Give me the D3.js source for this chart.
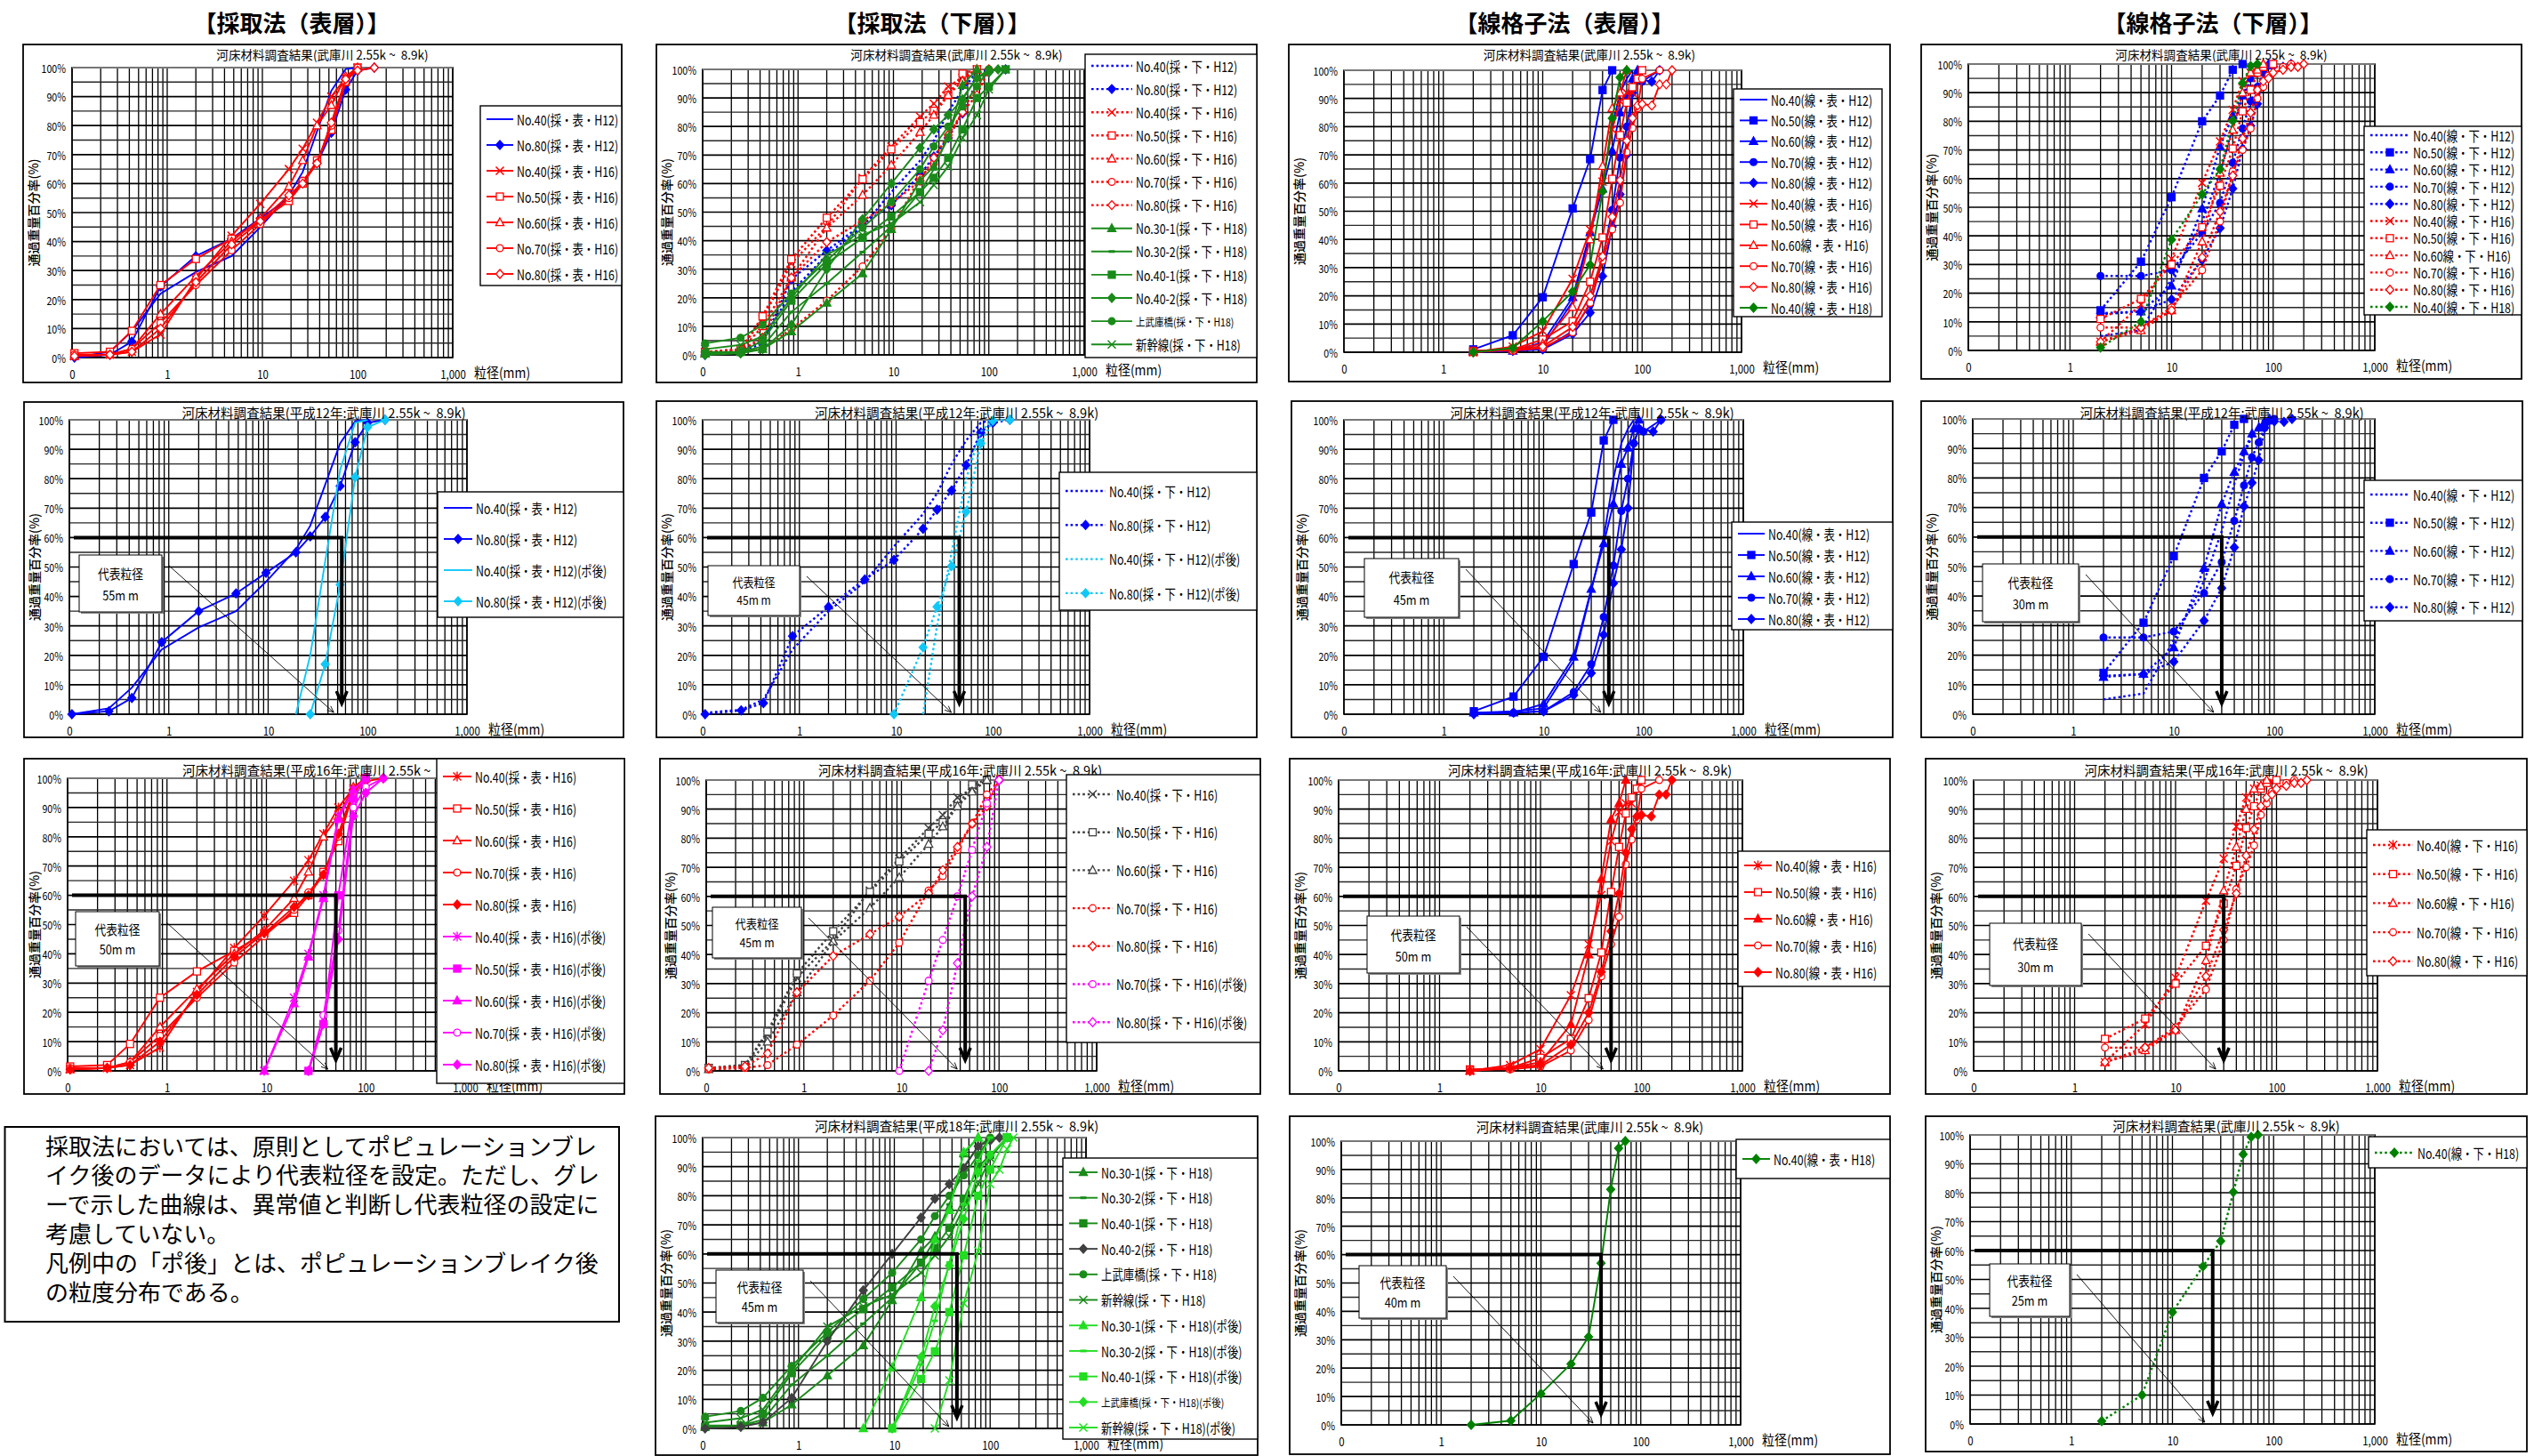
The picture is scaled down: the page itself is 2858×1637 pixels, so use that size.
<!DOCTYPE html>
<html><head><meta charset="utf-8">
<script src="https://cdn.jsdelivr.net/npm/d3@7"></script>
<style>
html,body{margin:0;padding:0;background:#fff;}
svg{display:block;}
text{white-space:pre;}
</style></head><body>
<svg id="chart" width="2858" height="1637"></svg>
<script>
// ---- sieve sizes (mm) ----
const _ = null;
const SIEVE_SAIJU = [0.106, 0.25, 0.425, 0.85, 2, 4.75, 9.5, 19, 26.5, 37.5, 53, 75, 100, 125, 150, 175];
const SIEVE_SENKOSHI = [2, 5, 10, 20, 30, 40, 50, 60, 70, 80, 90, 100, 125, 150, 175, 200];

const X_TICKS = [0.1, 1, 10, 100, 1000];
const X_TICK_LABELS = ['0', '1', '10', '100', '1,000'];
const Y_TICKS = [0, 10, 20, 30, 40, 50, 60, 70, 80, 90, 100];

// ---- 採取法 表層 (passing %) ----
const SO_H12_40 = [0, 2, 9, 22, 29.5, 35, 45, 56, 64, 78, 92, 99.5, 100];
const SO_H12_80 = [0, 1, 5.5, 24.5, 35, 41, 48, 55, 60.4, 67, 77.5, 92.4, 99, _, 100];
const SO_H12_40P = [_, _, _, _, _, _, _, 0, 20, 52, 83, 99, 100];
const SO_H12_80P = [_, _, _, _, _, _, _, _, 0, 17, 44, 80.5, 97.5, _, 100];
const SO_H16_40 = [0.5, 1, 2, 8, 27, 42, 53, 65, 72, 81, 90, 96.5, 100];
const SO_H16_50 = [1.5, 2, 9.2, 25, 34, 41, 47, 54, 60, 68, 78.5, 95, 100];
const SO_H16_60 = [0.5, 1, 3, 15, 28, 40, 48, 59, 68, 80, 87, 97, 100];
const SO_H16_70 = [1, 1, 3, 12, 25, 37, 46, 55, 61, 67, 80, 95, 100];
const SO_H16_80 = [0.5, 1, 2, 10, 26, 39, 47, 56, 60, 67, 81, 96, 99, _, 100];
const SO_H16_40P = [_, _, _, _, _, _, 0, 25, 40, 60, 87, 96, 100];
const SO_H16_50P = [_, _, _, _, _, _, _, _, 0, 16, 60, 93, 100];
const SO_H16_60P = [_, _, _, _, _, _, 0, 23, 39, 59, 86, 96, 100];
const SO_H16_70P = [_, _, _, _, _, _, _, _, 0, 19, 48, 90, 97, _, 100];
const SO_H16_80P = [_, _, _, _, _, _, _, _, 0, 16, 45, 87, 95, _, 100];

// ---- 採取法 下層 ----
const SB_H12_40 = [0.5, 1.5, 5, 22, 35, 45, 57, 68, 75, 85, 93, 99, 100];
const SB_H12_80 = [0, 1.3, 3.8, 26.5, 36.5, 45.8, 52.4, 63, 69.5, 76, 84.6, 95.7, 99, _, 100];
const SB_H12_40P = [_, _, _, _, _, _, _, 0, 30, 55, 80, 96, 100];
const SB_H12_80P = [_, _, _, _, _, _, 0, 22.7, 36.5, 50.3, 68.8, 92, 99.7, _, 100];
const SB_H16_40 = [1, 2, 12.5, 32, 45, 62, 73, 83.5, 88, 94, 97, 100];
const SB_H16_50 = [1, 2, 13.5, 33.5, 48, 61.5, 72, 81.5, 85.5, 91, 98.5, 100];
const SB_H16_60 = [0.5, 1.5, 10, 27, 44.5, 56, 66.5, 78, 84, 91, 96, 100];
const SB_H16_70 = [0.5, 1, 2, 9, 19, 31, 44, 62, 67, 76, 85, 95, 100];
const SB_H16_80 = [1, 1.5, 6, 27, 39.5, 47, 53, 61, 69, 77, 85, 91, 100];
const SB_H16_70P = [_, _, _, _, _, _, 0, 31, 45, 60, 76, 92, 100];
const SB_H16_80P = [_, _, _, _, _, _, _, 0, 14, 37, 60, 77, 100];
const SB_H18_301 = [0.5, 1, 2, 8.2, 18.2, 28.5, 44, 61, 66, 76, 94.5, 100];
const SB_H18_302 = [1, 1, 3, 15, 25, 36, 45, 57, 65, 77, 90, 97, 100];
const SB_H18_401 = [0.5, 1, 5, 19, 32, 41, 48.5, 57, 62, 69, 79, 90, 94, _, 100];
const SB_H18_402 = [0, 0.5, 2, 10.5, 30, 47.5, 60, 72.5, 79, 84, 89.5, 97, 99, 100];
const SB_H18_KAMI = [4, 6, 10.5, 21.5, 33, 44.5, 53.5, 65, 73, 80, 87, 94, 100];
const SB_H18_SHIN = [2, 3.5, 6.5, 20, 35, 42, 46, 53.5, 59.5, 66, 76, 84, 93, _, 100];
const SB_H18_301P = [_, _, _, _, _, 0, 21, 45, 65, 75, 95, 100];
const SB_H18_302P = [_, _, _, _, _, _, 0, 22, 37, 57, 77, 92, 100];
const SB_H18_401P = [_, _, _, _, _, _, 0, 17, 26.5, 40, 59.5, 80, 89, _, 100];
const SB_H18_KAMIP = [_, _, _, _, _, _, 0, 24.5, 42, 56, 72, 88, 94, _, 100];
const SB_H18_SHINP = [_, _, _, _, _, _, _, _, 0, 16.5, 43, 61, 84, 89, 96, 100];

// ---- 線格子法 表層 ----
const LO_H12_40 = [0.5, 1, 2, 18, 42, 60, 80, 92, 97, 100];
const LO_H12_50 = [1, 6, 19.5, 51, 68.5, 93, 100];
const LO_H12_60 = [0.5, 0.5, 3.5, 19.5, 42.5, 58, 71.5, 85, 90.5, 97, 100];
const LO_H12_70 = [0.5, 0.5, 1, 7.5, 17, 33, 50.5, 69, 80, 92, 97, 96, _, 100];
const LO_H12_80 = [0, 0.5, 1, 6.5, 14, 27, 44.5, 56, 70, 92, 97, _, 96, 100];
const LO_H16_40 = [0, 2, 7.5, 26, 43.5, 60.5, 79, 89, 92, 92, 97, 100];
const LO_H16_50 = [0.5, 1, 4.5, 11, 25, 40.7, 61.5, 77, 88.5, 94, 97, 100];
const LO_H16_60 = [0, 1, 3, 16, 40, 66, 86.5, 92, 100];
const LO_H16_70 = [0.5, 0.5, 1.5, 7, 17.5, 32.5, 43.5, 53, 71, 79.5, 86.5, 97, _, 100];
const LO_H16_80 = [0, 1, 2, 9, 20, 34, 48, 61, 75, 83, 87.5, 88, 87.5, 95, 95, 100];
const LO_H18_40 = [0, 1.5, 11, 21.5, 31, 57, 83, 97.5, 100];

// ---- 線格子法 下層 ----
const LB_H12_40 = [5, 7, 25, 45, 62, 78, 88, 94, 98, 100];
const LB_H12_50 = [14, 31, 53.5, 80, 89, 98, 100];
const LB_H12_60 = [12.6, 13.6, 22.6, 49.5, 71.2, 82, 89, 95, 97, 99, 100];
const LB_H12_70 = [26, 26, 28, 41, 51.5, 65.5, 77.5, 87, 92, 97, 99.5, 100];
const LB_H12_80 = [13, 13.6, 17.8, 31.7, 42.7, 56.5, 70.4, 78.4, 86.1, 97, _, 99.2, 99, 100];
const LB_H16_40 = [3, 16, 32, 58.5, 73, 84, 94, 97, 98, _, _, 100];
const LB_H16_50 = [11, 18, 30, 43, 57.5, 70.5, 83.5, 91, 97, 99, _, 100];
const LB_H16_60 = [3, 7, 14, 38, 62, 77, 90, 97, 98, 100];
const LB_H16_70 = [8, 8, 15, 28, 45, 62.5, 70, 77.5, 88, 92, 96, _, 99, 100];
const LB_H16_80 = [3, 8, 14, 32.5, 48.5, 61, 74, 83, 91, 94, 95, 97, 98, 99, 99, 100];
const LB_H18_40 = [1, 10, 38.7, 54.5, 63.3, 80.2, 93.3, 99.3, 100];

// ---- representative grain sizes (mm) ----
const REP_SO_H12 = 55, REP_SB_H12 = 45, REP_LO_H12 = 45, REP_LB_H12 = 30;
const REP_SO_H16 = 50, REP_SB_H16 = 45, REP_LO_H16 = 50, REP_LB_H16 = 30;
const REP_SB_H18 = 45, REP_LO_H18 = 40, REP_LB_H18 = 25;

const COL_HEADERS = ['【採取法（表層）】', '【採取法（下層）】', '【線格子法（表層）】', '【線格子法（下層）】'];
const NOTE_LINES = [
  '採取法においては、原則としてポピュレーションブレ',
  'イク後のデータにより代表粒径を設定。ただし、グレ',
  'ーで示した曲線は、異常値と判断し代表粒径の設定に',
  '考慮していない。',
  '凡例中の「ポ後」とは、ポピュレーションブレイク後',
  'の粒度分布である。'
];
const TITLE_ALL = '河床材料調査結果(武庫川 2.55k ~  8.9k)';
const TITLE_H12 = '河床材料調査結果(平成12年:武庫川 2.55k ~  8.9k)';
const TITLE_H16 = '河床材料調査結果(平成16年:武庫川 2.55k ~  8.9k)';
const TITLE_H18 = '河床材料調査結果(平成18年:武庫川 2.55k ~  8.9k)';

// ---- colours ----
const BLUE = '#0000ff', CYAN = '#10c8f8', RED = '#ff0000', MAG = '#ff00ff';
const GREEN = '#008000', GREEN2 = '#1a8a1a', LIME = '#22dd22', DGRAY = '#404040';

const JP = "'Noto Sans CJK JP','Noto Sans',sans-serif";

function S(label, data, color, marker, opts) {
  return Object.assign({ label, data, color, marker }, opts || {});
}

const svg = d3.select('#chart');
svg.append('rect').attr('width', 2858).attr('height', 1637).attr('fill', '#fff');

function txt(g, x, y, s, o) {
  o = o || {};
  let tr = `translate(${x},${y})`;
  if (o.rot) tr += ` rotate(${o.rot})`;
  if (o.sx && o.sx !== 1) tr += ` scale(${o.sx},1)`;
  return g.append('text')
    .attr('transform', tr)
    .attr('text-anchor', o.anchor || 'start')
    .attr('dominant-baseline', 'central')
    .style('font-family', JP)
    .style('font-size', (o.size || 14) + 'px')
    .style('font-weight', o.weight || 400)
    .attr('fill', o.fill || '#000')
    .text(s);
}

function drawMarker(g, type, cx, cy, color, open) {
  const r = 4.5;
  const fill = open ? '#fff' : color;
  if (type === 'diamond') {
    g.append('path').attr('d', `M${cx},${cy - r - 0.5}L${cx + r},${cy}L${cx},${cy + r + 0.5}L${cx - r},${cy}Z`)
      .attr('fill', fill).attr('stroke', color).attr('stroke-width', 1.3);
  } else if (type === 'square') {
    g.append('rect').attr('x', cx - 4).attr('y', cy - 4).attr('width', 8).attr('height', 8)
      .attr('fill', fill).attr('stroke', color).attr('stroke-width', 1.3);
  } else if (type === 'triangle') {
    g.append('path').attr('d', `M${cx},${cy - 5}L${cx + 4.6},${cy + 3.6}L${cx - 4.6},${cy + 3.6}Z`)
      .attr('fill', fill).attr('stroke', color).attr('stroke-width', 1.3);
  } else if (type === 'circle') {
    g.append('circle').attr('cx', cx).attr('cy', cy).attr('r', 3.9)
      .attr('fill', fill).attr('stroke', color).attr('stroke-width', 1.3);
  } else if (type === 'x') {
    g.append('path').attr('d', `M${cx - r},${cy - r}L${cx + r},${cy + r}M${cx - r},${cy + r}L${cx + r},${cy - r}`)
      .attr('stroke', color).attr('stroke-width', 1.5).attr('fill', 'none');
  } else if (type === 'star') {
    g.append('path').attr('d', `M${cx - r},${cy - r}L${cx + r},${cy + r}M${cx - r},${cy + r}L${cx + r},${cy - r}M${cx},${cy - r - 1}L${cx},${cy + r + 1}`)
      .attr('stroke', color).attr('stroke-width', 1.4).attr('fill', 'none');
  } else if (type === 'dash') {
    g.append('path').attr('d', `M${cx - 3.5},${cy}H${cx + 3.5}`)
      .attr('stroke', color).attr('stroke-width', 3).attr('fill', 'none');
  }
}

function styleLine(sel, s) {
  sel.attr('fill', 'none').attr('stroke', s.color)
    .attr('stroke-width', s.dotted ? 2.4 : 1.9)
    .attr('stroke-dasharray', s.dotted ? '2.6,3' : null);
}

function drawPanel(p) {
  const g = svg.append('g');
  const [fx0, fy0, fx1, fy1] = p.frame;
  g.append('rect').attr('x', fx0).attr('y', fy0).attr('width', fx1 - fx0).attr('height', fy1 - fy0)
    .attr('fill', '#fff').attr('stroke', '#000').attr('stroke-width', 1.8);

  const [px0, py0, px1, py1] = p.plot;
  const x = d3.scaleLog().domain([0.1, 1000]).range([px0, px1]);
  const y = d3.scaleLinear().domain([0, 100]).range([py1, py0]);

  // log grid
  const vx = [];
  [0.1, 1, 10, 100].forEach(d => { for (let k = 1; k <= 9; k++) vx.push(+(d * k).toPrecision(3)); });
  vx.push(1000);
  g.append('g').selectAll('line').data(vx).join('line')
    .attr('x1', d => x(d)).attr('x2', d => x(d))
    .attr('y1', py0).attr('y2', py1)
    .attr('stroke', '#000').attr('stroke-width', 1.3);
  g.append('g').selectAll('line').data(d3.range(0, 101, 5)).join('line')
    .attr('x1', px0).attr('x2', px1)
    .attr('y1', d => y(d)).attr('y2', d => y(d))
    .attr('stroke', d => d % 10 === 0 ? '#000' : '#262626').attr('stroke-width', d => d % 10 === 0 ? 1.7 : 1.4);
  g.append('rect').attr('x', px0).attr('y', py0).attr('width', px1 - px0).attr('height', py1 - py0)
    .attr('fill', 'none').attr('stroke', '#000').attr('stroke-width', 1.6);
  g.append('line').attr('x1', px0).attr('x2', px1).attr('y1', py0).attr('y2', py0)
    .attr('stroke', '#777').attr('stroke-width', 2.2);

  // axes
  const ya = g.append('g').attr('transform', `translate(${px0},0)`)
    .call(d3.axisLeft(y).tickValues(Y_TICKS).tickFormat(d => d + '%').tickSize(0).tickPadding(0));
  ya.select('.domain').remove();
  ya.selectAll('.tick text').attr('x', null).attr('dy', null).attr('dominant-baseline', 'central')
    .attr('transform', 'translate(-7,0) scale(0.85,1)')
    .style('font-family', JP).style('font-size', '12.5px').attr('fill', '#000');

  const xa = g.append('g').attr('transform', `translate(0,${py1})`)
    .call(d3.axisBottom(x).tickValues(X_TICKS).tickFormat((d, i) => X_TICK_LABELS[i]).tickSize(0).tickPadding(0));
  xa.select('.domain').remove();
  xa.selectAll('.tick text').attr('y', null).attr('dy', null).attr('dominant-baseline', 'central')
    .attr('transform', 'translate(0,18) scale(0.85,1)')
    .style('font-family', JP).style('font-size', '13.5px').attr('fill', '#000');

  txt(g, px1 + 24, py1 + 16, '粒径(mm)', { size: 15.5, sx: 0.9 });
  txt(g, fx0 + 11, (py0 + py1) / 2, '通過重量百分率(%)', { size: 14, rot: -90, anchor: 'middle', weight: 500 });

  // curves
  p.series.forEach(s => {
    const pts = s.data.map((v, i) => [p.sieve[i], v]).filter(d => d[1] != null);
    styleLine(g.append('path').attr('d', d3.line().x(d => x(d[0])).y(d => y(d[1]))(pts)), s);
    if (s.marker) pts.forEach(d => drawMarker(g, s.marker, x(d[0]), y(d[1]), s.color, s.open));
  });

  // representative size guide
  if (p.rep != null) {
    const xr = x(p.rep), y60 = y(60), y0 = y(0);
    g.append('path').attr('d', `M${px0 + 5},${y60}H${xr}V${y0 - 13}`)
      .attr('fill', 'none').attr('stroke', '#000').attr('stroke-width', 4);
    g.append('path').attr('d', `M${xr - 6},${y0 - 26}L${xr},${y0 - 12}L${xr + 6},${y0 - 26}`)
      .attr('fill', 'none').attr('stroke', '#000').attr('stroke-width', 3.5);
    const [bx0, by0, bx1, by1] = p.repBox;
    g.append('rect').attr('x', bx0 + 2).attr('y', by0 + 2).attr('width', bx1 - bx0).attr('height', by1 - by0).attr('fill', '#888');
    g.append('rect').attr('x', bx0).attr('y', by0).attr('width', bx1 - bx0).attr('height', by1 - by0)
      .attr('fill', '#fff').attr('stroke', '#000').attr('stroke-width', 1);
    const bcx = (bx0 + bx1) / 2, bh = by1 - by0;
    const fs = Math.min(14.5, bh * 0.245);
    txt(g, bcx, by0 + bh * 0.32, '代表粒径', { size: fs, anchor: 'middle', sx: 0.88 });
    txt(g, bcx, by0 + bh * 0.69, p.rep + 'm m', { size: fs, anchor: 'middle', sx: 0.88 });
    const ax0 = bx1 + 8, ay0 = by0 + 12, ax1 = xr - 9, ay1 = y0 - 2;
    g.append('line').attr('x1', ax0).attr('y1', ay0).attr('x2', ax1).attr('y2', ay1)
      .attr('stroke', '#000').attr('stroke-width', 0.9);
    const ang = Math.atan2(ay1 - ay0, ax1 - ax0);
    const hl = 8;
    const h1 = [ax1 - hl * Math.cos(ang - 0.4), ay1 - hl * Math.sin(ang - 0.4)];
    const h2 = [ax1 - hl * Math.cos(ang + 0.4), ay1 - hl * Math.sin(ang + 0.4)];
    g.append('path').attr('d', `M${h1[0]},${h1[1]}L${ax1},${ay1}L${h2[0]},${h2[1]}`)
      .attr('fill', 'none').attr('stroke', '#000').attr('stroke-width', 0.9);
  }

  txt(g, (fx0 + fx1) / 2, p.titleY, p.title, { size: p.titleSize || 15, anchor: 'middle', sx: 0.97 });

  // legend
  const [lx0, ly0, lx1, ly1] = p.legend;
  g.append('rect').attr('x', lx0).attr('y', ly0).attr('width', lx1 - lx0).attr('height', ly1 - ly0)
    .attr('fill', '#fff').attr('stroke', '#000').attr('stroke-width', 1.4);
  p.series.forEach((s, i) => {
    const yy = p.lgFirst + i * p.lgStep;
    const sx0 = lx0 + 7, sx1 = sx0 + p.lgSample;
    styleLine(g.append('path').attr('d', `M${sx0},${yy}H${sx1}`), s);
    if (s.marker) drawMarker(g, s.marker, (sx0 + sx1) / 2, yy, s.color, s.open);
    txt(g, sx1 + 4, yy, s.label, { size: s.small ? 12.5 : 15.5, sx: s.small ? 0.84 : 0.8 });
  });
}

const PANELS = [
  { // 採取法 表層
    frame: [26, 50, 699, 430], plot: [81, 76, 509, 402], title: TITLE_ALL, titleY: 61, titleSize: 14,
    sieve: SIEVE_SAIJU, legend: [540, 119, 699, 321], lgFirst: 134, lgStep: 29, lgSample: 30,
    series: [
      S('No.40(採・表・H12)', SO_H12_40, BLUE, null),
      S('No.80(採・表・H12)', SO_H12_80, BLUE, 'diamond'),
      S('No.40(採・表・H16)', SO_H16_40, RED, 'x'),
      S('No.50(採・表・H16)', SO_H16_50, RED, 'square', { open: true }),
      S('No.60(採・表・H16)', SO_H16_60, RED, 'triangle', { open: true }),
      S('No.70(採・表・H16)', SO_H16_70, RED, 'circle', { open: true }),
      S('No.80(採・表・H16)', SO_H16_80, RED, 'diamond', { open: true })
    ]
  },
  { // 採取法 下層
    frame: [738, 50, 1413, 430], plot: [790, 78, 1219, 399], title: TITLE_ALL, titleY: 61, titleSize: 14,
    sieve: SIEVE_SAIJU, legend: [1220, 61, 1413, 402], lgFirst: 74, lgStep: 26.1, lgSample: 46,
    series: [
      S('No.40(採・下・H12)', SB_H12_40, BLUE, null, { dotted: true }),
      S('No.80(採・下・H12)', SB_H12_80, BLUE, 'diamond', { dotted: true }),
      S('No.40(採・下・H16)', SB_H16_40, RED, 'x', { dotted: true }),
      S('No.50(採・下・H16)', SB_H16_50, RED, 'square', { dotted: true, open: true }),
      S('No.60(採・下・H16)', SB_H16_60, RED, 'triangle', { dotted: true, open: true }),
      S('No.70(採・下・H16)', SB_H16_70, RED, 'circle', { dotted: true, open: true }),
      S('No.80(採・下・H16)', SB_H16_80, RED, 'diamond', { dotted: true, open: true }),
      S('No.30-1(採・下・H18)', SB_H18_301, GREEN2, 'triangle'),
      S('No.30-2(採・下・H18)', SB_H18_302, GREEN2, 'dash'),
      S('No.40-1(採・下・H18)', SB_H18_401, GREEN2, 'square'),
      S('No.40-2(採・下・H18)', SB_H18_402, GREEN2, 'diamond'),
      S('上武庫橋(採・下・H18)', SB_H18_KAMI, GREEN2, 'circle', { small: true }),
      S('新幹線(採・下・H18)', SB_H18_SHIN, GREEN2, 'x')
    ]
  },
  { // 線格子法 表層
    frame: [1449, 50, 2125, 429], plot: [1511, 79, 1958, 396], title: TITLE_ALL, titleY: 61, titleSize: 14,
    sieve: SIEVE_SENKOSHI, legend: [1949, 100, 2116, 356], lgFirst: 112, lgStep: 23.4, lgSample: 31,
    series: [
      S('No.40(線・表・H12)', LO_H12_40, BLUE, null),
      S('No.50(線・表・H12)', LO_H12_50, BLUE, 'square'),
      S('No.60(線・表・H12)', LO_H12_60, BLUE, 'triangle'),
      S('No.70(線・表・H12)', LO_H12_70, BLUE, 'circle'),
      S('No.80(線・表・H12)', LO_H12_80, BLUE, 'diamond'),
      S('No.40(線・表・H16)', LO_H16_40, RED, 'x'),
      S('No.50(線・表・H16)', LO_H16_50, RED, 'square', { open: true }),
      S('No.60線・表・H16)', LO_H16_60, RED, 'triangle', { open: true }),
      S('No.70(線・表・H16)', LO_H16_70, RED, 'circle', { open: true }),
      S('No.80(線・表・H16)', LO_H16_80, RED, 'diamond', { open: true }),
      S('No.40(線・表・H18)', LO_H18_40, GREEN, 'diamond')
    ]
  },
  { // 線格子法 下層
    frame: [2160, 50, 2835, 426], plot: [2213, 72, 2670, 394], title: TITLE_ALL, titleY: 61, titleSize: 14,
    sieve: SIEVE_SENKOSHI, legend: [2658, 142, 2835, 354], lgFirst: 152, lgStep: 19.3, lgSample: 44,
    series: [
      S('No.40(線・下・H12)', LB_H12_40, BLUE, null, { dotted: true }),
      S('No.50(線・下・H12)', LB_H12_50, BLUE, 'square', { dotted: true }),
      S('No.60(線・下・H12)', LB_H12_60, BLUE, 'triangle', { dotted: true }),
      S('No.70(線・下・H12)', LB_H12_70, BLUE, 'circle', { dotted: true }),
      S('No.80(線・下・H12)', LB_H12_80, BLUE, 'diamond', { dotted: true }),
      S('No.40(線・下・H16)', LB_H16_40, RED, 'x', { dotted: true }),
      S('No.50(線・下・H16)', LB_H16_50, RED, 'square', { dotted: true, open: true }),
      S('No.60線・下・H16)', LB_H16_60, RED, 'triangle', { dotted: true, open: true }),
      S('No.70(線・下・H16)', LB_H16_70, RED, 'circle', { dotted: true, open: true }),
      S('No.80(線・下・H16)', LB_H16_80, RED, 'diamond', { dotted: true, open: true }),
      S('No.40(線・下・H18)', LB_H18_40, GREEN, 'diamond', { dotted: true })
    ]
  },
  { // H12 採取法 表層
    frame: [27, 452, 701, 829], plot: [78, 472, 525, 803], title: TITLE_H12, titleY: 463,
    sieve: SIEVE_SAIJU, legend: [492, 553, 701, 694], lgFirst: 571, lgStep: 35, lgSample: 32,
    rep: REP_SO_H12, repBox: [89, 624, 182, 688],
    series: [
      S('No.40(採・表・H12)', SO_H12_40, BLUE, null),
      S('No.80(採・表・H12)', SO_H12_80, BLUE, 'diamond'),
      S('No.40(採・表・H12)(ポ後)', SO_H12_40P, CYAN, null),
      S('No.80(採・表・H12)(ポ後)', SO_H12_80P, CYAN, 'diamond')
    ]
  },
  { // H12 採取法 下層
    frame: [738, 451, 1413, 829], plot: [790, 472, 1225, 803], title: TITLE_H12, titleY: 463,
    sieve: SIEVE_SAIJU, legend: [1191, 531, 1413, 686], lgFirst: 552, lgStep: 38.3, lgSample: 45,
    rep: REP_SB_H12, repBox: [796, 636, 899, 692],
    series: [
      S('No.40(採・下・H12)', SB_H12_40, BLUE, null, { dotted: true }),
      S('No.80(採・下・H12)', SB_H12_80, BLUE, 'diamond', { dotted: true }),
      S('No.40(採・下・H12)(ポ後)', SB_H12_40P, CYAN, null, { dotted: true }),
      S('No.80(採・下・H12)(ポ後)', SB_H12_80P, CYAN, 'diamond', { dotted: true })
    ]
  },
  { // H12 線格子法 表層
    frame: [1452, 451, 2128, 829], plot: [1511, 472, 1960, 803], title: TITLE_H12, titleY: 463,
    sieve: SIEVE_SENKOSHI, legend: [1947, 587, 2128, 708], lgFirst: 600, lgStep: 24, lgSample: 30,
    rep: REP_LO_H12, repBox: [1534, 628, 1640, 694],
    series: [
      S('No.40(線・表・H12)', LO_H12_40, BLUE, null),
      S('No.50(線・表・H12)', LO_H12_50, BLUE, 'square'),
      S('No.60(線・表・H12)', LO_H12_60, BLUE, 'triangle'),
      S('No.70(線・表・H12)', LO_H12_70, BLUE, 'circle'),
      S('No.80(線・表・H12)', LO_H12_80, BLUE, 'diamond')
    ]
  },
  { // H12 線格子法 下層
    frame: [2160, 451, 2836, 829], plot: [2218, 471, 2670, 803], title: TITLE_H12, titleY: 463,
    sieve: SIEVE_SENKOSHI, legend: [2658, 540, 2836, 698], lgFirst: 556, lgStep: 31.7, lgSample: 44,
    rep: REP_LB_H12, repBox: [2229, 634, 2337, 699],
    series: [
      S('No.40(線・下・H12)', LB_H12_40, BLUE, null, { dotted: true }),
      S('No.50(線・下・H12)', LB_H12_50, BLUE, 'square', { dotted: true }),
      S('No.60(線・下・H12)', LB_H12_60, BLUE, 'triangle', { dotted: true }),
      S('No.70(線・下・H12)', LB_H12_70, BLUE, 'circle', { dotted: true }),
      S('No.80(線・下・H12)', LB_H12_80, BLUE, 'diamond', { dotted: true })
    ]
  },
  { // H16 採取法 表層
    frame: [27, 853, 702, 1230], plot: [76, 875, 523, 1204], title: TITLE_H16, titleY: 865,
    sieve: SIEVE_SAIJU, legend: [491, 853, 702, 1218], lgFirst: 873, lgStep: 36, lgSample: 32,
    rep: REP_SO_H16, repBox: [85, 1025, 179, 1086],
    series: [
      S('No.40(採・表・H16)', SO_H16_40, RED, 'star'),
      S('No.50(採・表・H16)', SO_H16_50, RED, 'square', { open: true }),
      S('No.60(採・表・H16)', SO_H16_60, RED, 'triangle', { open: true }),
      S('No.70(採・表・H16)', SO_H16_70, RED, 'circle', { open: true }),
      S('No.80(採・表・H16)', SO_H16_80, RED, 'diamond'),
      S('No.40(採・表・H16)(ポ後)', SO_H16_40P, MAG, 'star'),
      S('No.50(採・表・H16)(ポ後)', SO_H16_50P, MAG, 'square'),
      S('No.60(採・表・H16)(ポ後)', SO_H16_60P, MAG, 'triangle'),
      S('No.70(採・表・H16)(ポ後)', SO_H16_70P, MAG, 'circle', { open: true }),
      S('No.80(採・表・H16)(ポ後)', SO_H16_80P, MAG, 'diamond')
    ]
  },
  { // H16 採取法 下層
    frame: [742, 853, 1417, 1230], plot: [794, 877, 1233, 1204], title: TITLE_H16, titleY: 865,
    sieve: SIEVE_SAIJU, legend: [1199, 871, 1417, 1172], lgFirst: 893, lgStep: 42.7, lgSample: 45,
    rep: REP_SB_H16, repBox: [801, 1020, 901, 1077],
    series: [
      S('No.40(採・下・H16)', SB_H16_40, DGRAY, 'x', { dotted: true }),
      S('No.50(採・下・H16)', SB_H16_50, DGRAY, 'square', { dotted: true, open: true }),
      S('No.60(採・下・H16)', SB_H16_60, DGRAY, 'triangle', { dotted: true, open: true }),
      S('No.70(採・下・H16)', SB_H16_70, RED, 'circle', { dotted: true, open: true }),
      S('No.80(採・下・H16)', SB_H16_80, RED, 'diamond', { dotted: true, open: true }),
      S('No.70(採・下・H16)(ポ後)', SB_H16_70P, MAG, 'circle', { dotted: true, open: true }),
      S('No.80(採・下・H16)(ポ後)', SB_H16_80P, MAG, 'diamond', { dotted: true, open: true })
    ]
  },
  { // H16 線格子法 表層
    frame: [1450, 853, 2125, 1230], plot: [1505, 877, 1959, 1204], title: TITLE_H16, titleY: 865,
    sieve: SIEVE_SENKOSHI, legend: [1954, 957, 2125, 1109], lgFirst: 973, lgStep: 30, lgSample: 31,
    rep: REP_LO_H16, repBox: [1537, 1030, 1641, 1094],
    series: [
      S('No.40(線・表・H16)', LO_H16_40, RED, 'star'),
      S('No.50(線・表・H16)', LO_H16_50, RED, 'square', { open: true }),
      S('No.60線・表・H16)', LO_H16_60, RED, 'triangle'),
      S('No.70(線・表・H16)', LO_H16_70, RED, 'circle', { open: true }),
      S('No.80(線・表・H16)', LO_H16_80, RED, 'diamond')
    ]
  },
  { // H16 線格子法 下層
    frame: [2165, 853, 2841, 1230], plot: [2219, 877, 2673, 1204], title: TITLE_H16, titleY: 865,
    sieve: SIEVE_SENKOSHI, legend: [2661, 933, 2841, 1097], lgFirst: 950, lgStep: 32.7, lgSample: 45,
    rep: REP_LB_H16, repBox: [2237, 1038, 2340, 1108],
    series: [
      S('No.40(線・下・H16)', LB_H16_40, RED, 'star', { dotted: true }),
      S('No.50(線・下・H16)', LB_H16_50, RED, 'square', { dotted: true, open: true }),
      S('No.60線・下・H16)', LB_H16_60, RED, 'triangle', { dotted: true, open: true }),
      S('No.70(線・下・H16)', LB_H16_70, RED, 'circle', { dotted: true, open: true }),
      S('No.80(線・下・H16)', LB_H16_80, RED, 'diamond', { dotted: true, open: true })
    ]
  },
  { // H18 採取法 下層
    frame: [737, 1255, 1414, 1636], plot: [790, 1279, 1221, 1606], title: TITLE_H18, titleY: 1265,
    sieve: SIEVE_SAIJU, legend: [1195, 1302, 1414, 1618], lgFirst: 1318, lgStep: 28.7, lgSample: 32,
    rep: REP_SB_H18, repBox: [805, 1428, 903, 1487],
    series: [
      S('No.30-1(採・下・H18)', SB_H18_301, GREEN2, 'triangle'),
      S('No.30-2(採・下・H18)', SB_H18_302, GREEN2, 'dash'),
      S('No.40-1(採・下・H18)', SB_H18_401, GREEN2, 'square'),
      S('No.40-2(採・下・H18)', SB_H18_402, DGRAY, 'diamond'),
      S('上武庫橋(採・下・H18)', SB_H18_KAMI, GREEN2, 'circle'),
      S('新幹線(採・下・H18)', SB_H18_SHIN, GREEN2, 'x'),
      S('No.30-1(採・下・H18)(ポ後)', SB_H18_301P, LIME, 'triangle'),
      S('No.30-2(採・下・H18)(ポ後)', SB_H18_302P, LIME, 'dash'),
      S('No.40-1(採・下・H18)(ポ後)', SB_H18_401P, LIME, 'square'),
      S('上武庫橋(採・下・H18)(ポ後)', SB_H18_KAMIP, LIME, 'diamond', { small: true }),
      S('新幹線(採・下・H18)(ポ後)', SB_H18_SHINP, LIME, 'x')
    ]
  },
  { // H18 線格子法 表層
    frame: [1450, 1255, 2125, 1635], plot: [1508, 1283, 1957, 1602], title: TITLE_ALL, titleY: 1266,
    sieve: SIEVE_SENKOSHI, legend: [1952, 1281, 2125, 1325], lgFirst: 1303, lgStep: 0, lgSample: 31,
    rep: REP_LO_H18, repBox: [1528, 1423, 1626, 1482],
    series: [ S('No.40(線・表・H18)', LO_H18_40, GREEN, 'diamond') ]
  },
  { // H18 線格子法 下層
    frame: [2165, 1255, 2841, 1632], plot: [2215, 1276, 2670, 1601], title: TITLE_ALL, titleY: 1265,
    sieve: SIEVE_SENKOSHI, legend: [2663, 1278, 2841, 1313], lgFirst: 1296, lgStep: 0, lgSample: 44,
    rep: REP_LB_H18, repBox: [2237, 1421, 2327, 1480],
    series: [ S('No.40(線・下・H18)', LB_H18_40, GREEN, 'diamond', { dotted: true }) ]
  }
];

PANELS.forEach(drawPanel);

// column headings
const HEAD_X = [328, 1048, 1759, 2488];
COL_HEADERS.forEach((h, i) => txt(svg, HEAD_X[i], 24, h, { size: 26, weight: 700, anchor: 'middle' }));

// note box
const note = svg.append('g');
note.append('rect').attr('x', 5.5).attr('y', 1267).attr('width', 690.5).attr('height', 219)
  .attr('fill', '#fff').attr('stroke', '#000').attr('stroke-width', 2);
NOTE_LINES.forEach((l, i) => txt(note, 51, 1287 + i * 32.8, l, { size: 26 }));
</script></body></html>
